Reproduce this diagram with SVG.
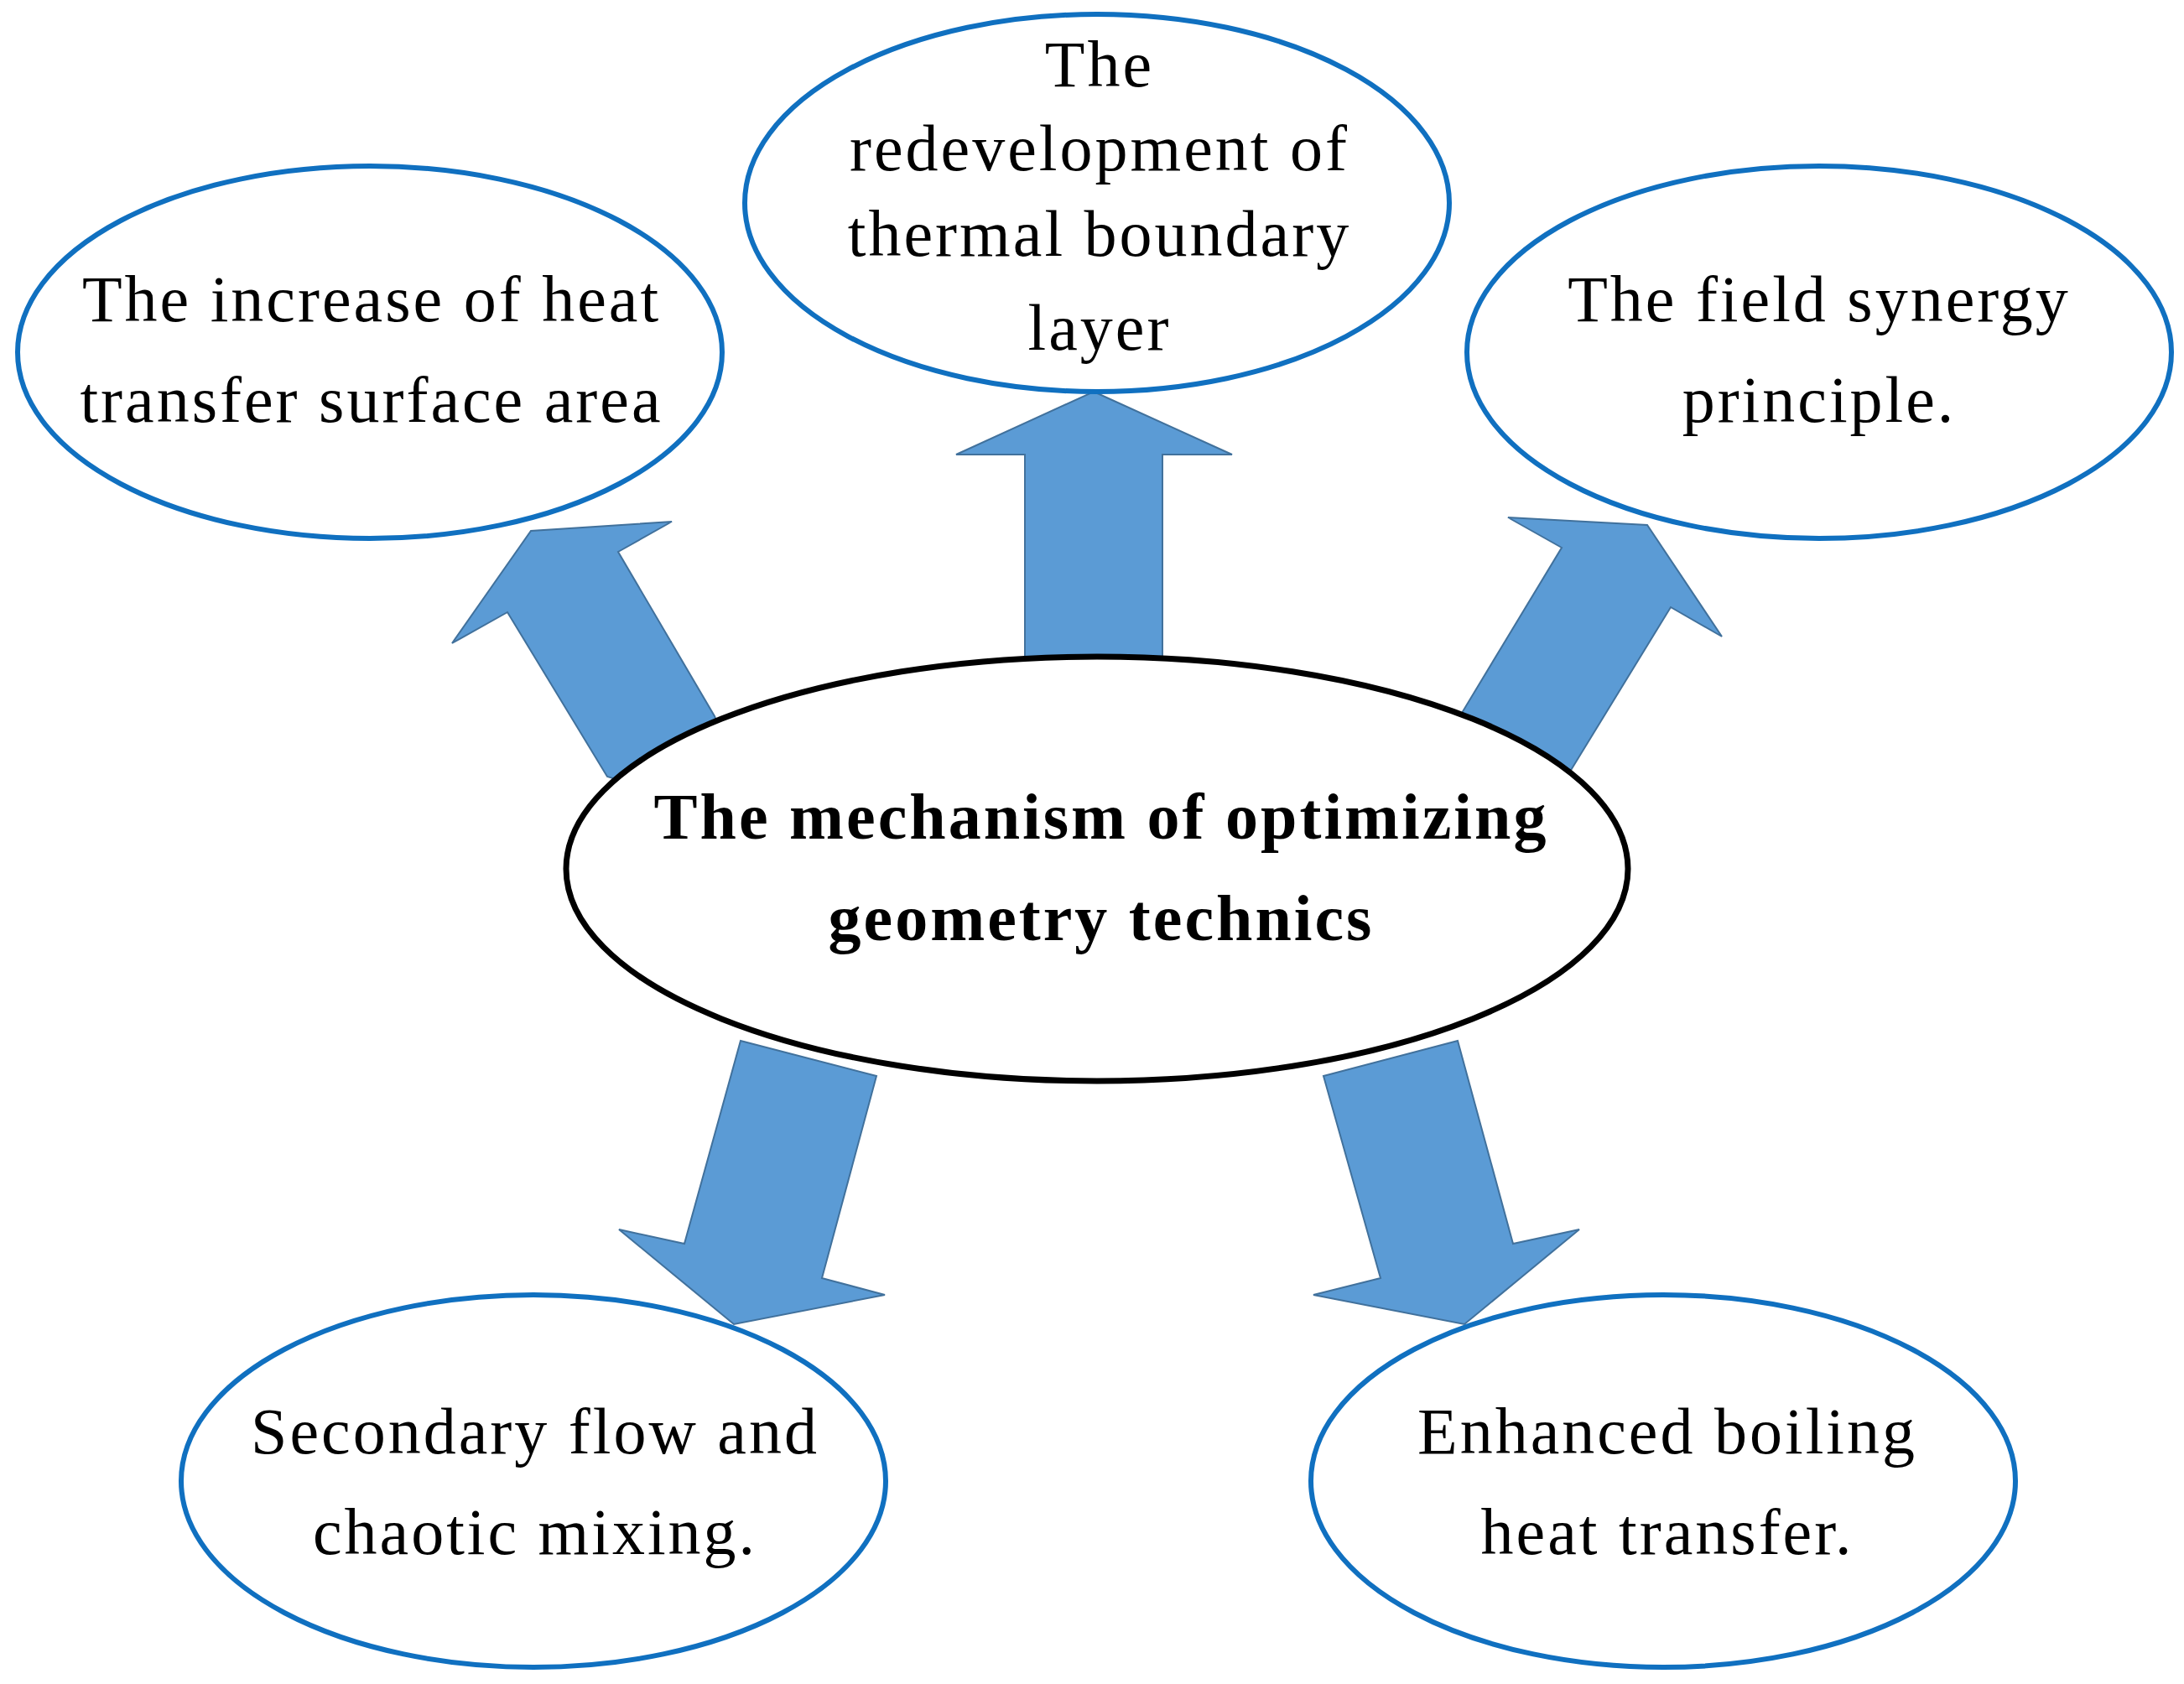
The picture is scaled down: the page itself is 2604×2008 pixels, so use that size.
<svg xmlns="http://www.w3.org/2000/svg" width="2604" height="2008" viewBox="0 0 2604 2008">
<style>
.n{fill:#fff;stroke:#1070c0;stroke-width:6}
.a{fill:#5b9bd5;stroke:#41719c;stroke-width:2}
text{font-family:"Liberation Serif","Times New Roman",serif;font-size:78px;text-anchor:middle;fill:#000;letter-spacing:3px}
.b{font-weight:bold}
</style>
<rect width="2604" height="2008" fill="#fff"/>
<g id="connectors">
<polygon class="a" points="539,767 633,633 801,622 737,658 852,854 900,980 724,926 605,730"/>
<polygon class="a" points="1304,467 1469,542 1386,542 1386,820 1222,820 1222,542 1140,542"/>
<polygon class="a" points="1798,617 1964,626 2053,759 1992,724 1872,920 1743,850 1862,653"/>
<polygon class="a" points="883,1241 1045,1283 980,1524 1055,1544 875,1579 738,1466 816,1483"/>
<polygon class="a" points="1578,1283 1738,1241 1804,1483 1883,1466 1746,1579 1566,1544 1646,1524"/>
</g>
<g id="center"><ellipse cx="1308" cy="1036" rx="633" ry="253" fill="#fff" stroke="#000" stroke-width="7"/>
<text class="b" x="1313" y="1000">The mechanism of optimizing</text><text class="b" x="1313" y="1121">geometry technics</text></g>
<g id="top"><ellipse class="n" cx="1308" cy="242" rx="420" ry="225"/>
<text x="1311" y="103">The</text><text x="1311" y="203">redevelopment of</text><text x="1311" y="305">thermal boundary</text><text x="1311" y="417">layer</text></g>
<g id="left"><ellipse class="n" cx="441" cy="420" rx="420" ry="222"/>
<text x="443" y="383">The increase of heat</text><text x="443" y="503">transfer surface area</text></g>
<g id="right"><ellipse class="n" cx="2169" cy="420" rx="420" ry="222"/>
<text x="2169" y="383">The field synergy</text><text x="2169" y="503">principle.</text></g>
<g id="bottomleft"><ellipse class="n" cx="636" cy="1766" rx="420" ry="222"/>
<text x="638" y="1733">Secondary flow and</text><text x="638" y="1853">chaotic mixing.</text></g>
<g id="bottomright"><ellipse class="n" cx="1983" cy="1766" rx="420" ry="222"/>
<text x="1988" y="1733">Enhanced boiling</text><text x="1988" y="1853">heat transfer.</text></g>
</svg>
